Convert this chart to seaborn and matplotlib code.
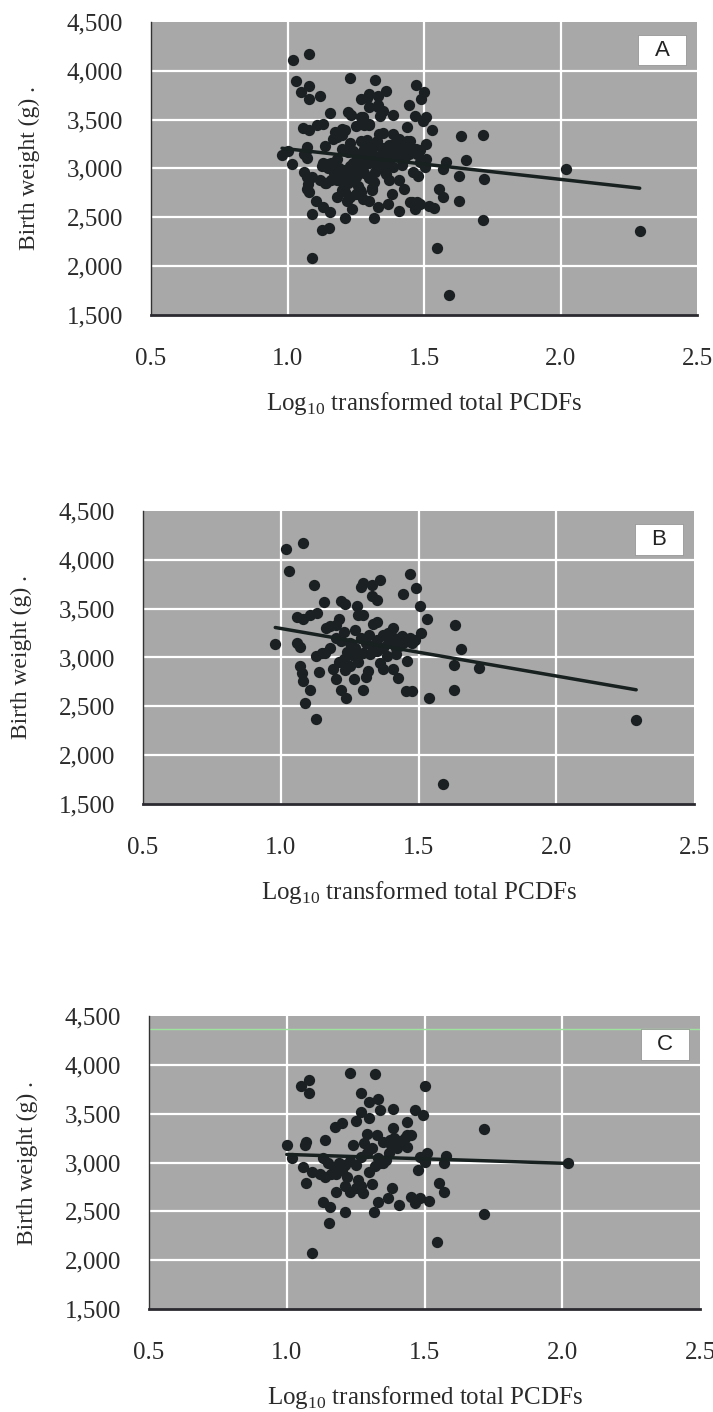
import numpy as np
import pandas as pd
import matplotlib.pyplot as plt
import seaborn as sns

# group B
b_x = [1.02, 1.08, 1.03, 1.12,
       1.29, 1.30, 1.33, 1.36,
       1.47, 1.49, 1.445, 1.506, 1.53,
       1.634, 1.655, 1.627, 1.72, 1.627, 1.537,
       1.455, 1.475, 1.59, 2.29,
       0.98, 1.06, 1.07, 1.058, 1.08, 1.107, 1.13,
       1.157, 1.22, 1.234, 1.276, 1.28, 1.30, 1.33, 1.349,
       1.18, 1.21, 1.20, 1.165, 1.336, 1.349, 1.409, 1.39, 1.37, 1.44, 1.47, 1.487, 1.508, 1.476, 1.445,
       1.20, 1.22, 1.25, 1.27, 1.29, 1.31, 1.33, 1.35, 1.37, 1.39, 1.41, 1.43, 1.24, 1.26, 1.30, 1.34, 1.23, 1.27, 1.32, 1.42,
       1.128, 1.149, 1.18, 1.137, 1.07, 1.076, 1.08, 1.106, 1.088, 1.128,
       1.19, 1.20, 1.218, 1.237, 1.234, 1.264, 1.30, 1.318, 1.36, 1.372, 1.409, 1.427, 1.458, 1.25, 1.23, 1.276, 1.324, 1.349, 1.385, 1.42,
       1.16, 1.21, 1.28, 1.31]
b_y = [4110, 4170, 3890, 3745,
       3720, 3760, 3740, 3790,
       3850, 3710, 3650, 3530, 3390,
       3330, 3090, 2920, 2890, 2670, 2590,
       2655, 2655, 1705, 2360,
       3135, 3150, 3110, 3415, 3390, 3440, 3455,
       3565, 3575, 3550, 3524, 3440, 3440, 3626, 3585,
       3320, 3395, 3337, 3300, 3347, 3360, 3303, 3252, 3235, 3218, 3200, 3184, 3252, 3150, 3150,
       3200, 3170, 3150, 3100, 3200, 3150, 3120, 3180, 3100, 3150, 3200, 3120, 3060, 3030, 3050, 3070, 3260, 3280, 3230, 3100,
       3020, 3048, 3099, 2850, 2912, 2844, 2759, 2667, 2530, 2367,
       2878, 2776, 2663, 2582, 2871, 2776, 2667, 2861, 2946, 2878, 2878, 2793, 2963, 2912, 2980, 3014, 3031, 3065, 3014, 3031,
       3050, 2950, 2950, 2800]

# group C
c_x = [1.23, 1.32, 1.08, 1.05, 1.08, 1.50, 1.27, 1.30, 1.33, 1.27, 1.34, 1.387, 1.466, 1.496,
       1.30, 1.25, 1.20, 1.175, 1.436, 1.387, 1.438, 1.438, 1.0, 1.067, 1.07, 1.018, 1.137, 1.29,
       1.327, 1.375, 1.508, 1.579, 1.569, 1.478, 1.554, 1.569, 1.518, 1.484, 1.466, 1.45, 1.409,
       1.381, 1.369, 1.33, 1.318, 1.212, 1.153, 1.157, 1.131, 1.07, 1.06, 1.09, 1.09, 1.547,
       1.278, 1.23, 1.18, 1.484, 1.502,
       1.717, 1.717, 2.02,
       1.13, 1.15, 1.17, 1.19, 1.21, 1.23, 1.25, 1.27, 1.29, 1.31, 1.33, 1.35, 1.37, 1.16, 1.18,
       1.20, 1.22, 1.26, 1.30, 1.32, 1.34, 1.36, 1.38, 1.40, 1.43, 1.45, 1.14, 1.24, 1.28, 1.35,
       1.39, 1.41, 1.12, 1.27, 1.31, 1.25, 1.21]
c_y = [3920, 3905, 3845, 3780, 3710, 3785, 3709, 3624, 3648, 3522, 3539, 3546, 3539, 3488,
       3454, 3430, 3402, 3368, 3419, 3352, 3283, 3164, 3181, 3181, 3215, 3044, 3232, 3293,
       3283, 3232, 3096, 3068, 2994, 2925, 2790, 2703, 2611, 2636, 2585, 2652, 2567,
       2738, 2635, 2601, 2489, 2489, 2386, 2550, 2601, 2789, 2959, 2908, 2079, 2182,
       2686, 2703, 2703, 3061, 3010,
       3341, 2475, 2995,
       3050, 3000, 2950, 3000, 2980, 3020, 2980, 3060, 3100, 3150, 3050, 3000, 3100, 2880, 2880,
       2920, 2850, 2820, 2900, 2960, 3000, 3030, 3180, 3150, 3250, 3280, 2850, 3180, 3200, 3210,
       3250, 3220, 2880, 2760, 2780, 2740, 2760]

# panel A is everybody
a_x = b_x + c_x
a_y = b_y + c_y

panel_names = ["A", "B", "C"]
x_ticks = [0.5, 1.0, 1.5, 2.0, 2.5]
x_ticklabels = ["0.5", "1.0", "1.5", "2.0", "2.5"]
y_ticks = [1500, 2000, 2500, 3000, 3500, 4000, 4500]
y_ticklabels = ["1,500", "2,000", "2,500", "3,000", "3,500", "4,000", "4,500"]

sns.set_theme(style="white")
plt.rcParams['font.family'] = ['Liberation Serif', 'DejaVu Serif']
plt.rcParams['mathtext.fontset'] = 'custom'
plt.rcParams['mathtext.rm'] = 'Liberation Serif'

fig = plt.figure(figsize=(7.13, 14.12), dpi=100)
boxes = [[0.2118, 0.7769, 0.7658, 0.2077],
         [0.2006, 0.4306, 0.7728, 0.2075],
         [0.2090, 0.0729, 0.7728, 0.2075]]
data = [(a_x, a_y), (b_x, b_y), (c_x, c_y)]

txt = '#2b2b2b'
for box, (xs, ys), name in zip(boxes, data, panel_names):
    ax = fig.add_axes(box)
    ax.set_facecolor('#a8a8a8')
    df = pd.DataFrame({'pcdf': xs, 'bw': ys})
    sns.regplot(data=df, x='pcdf', y='bw', ax=ax, ci=None,
                scatter_kws=dict(s=66, color='#1b2022', alpha=1, linewidths=0, zorder=3),
                line_kws=dict(color='#182020', lw=2.5, zorder=4))
    ax.set_xlim(0.5, 2.5)
    ax.set_ylim(1500, 4500)
    ax.set_xticks(x_ticks)
    ax.set_xticklabels(x_ticklabels)
    ax.set_yticks(y_ticks)
    ax.set_yticklabels(y_ticklabels)
    for xv in x_ticks[1:-1]:
        ax.axvline(xv, color='white', lw=1.6, zorder=1)
    for yv in y_ticks[1:-1]:
        ax.axhline(yv, color='white', lw=1.6, zorder=1)
    if name == "C":
        # faint green scan line across the top of panel C
        ax.axhline(4370, color='#9ee39e', lw=1, zorder=1)
    ax.tick_params(axis='both', direction='in', length=3, width=1, colors='#333333',
                   labelsize=18, labelcolor=txt)
    ax.tick_params(axis='x', pad=24)
    ax.tick_params(axis='y', pad=20)
    for s in ['top', 'right']:
        ax.spines[s].set_visible(False)
    ax.spines['left'].set_color('#333333')
    ax.spines['left'].set_linewidth(1.0)
    ax.spines['bottom'].set_color('#2a2a30')
    ax.spines['bottom'].set_linewidth(2.0)
    ax.set_xlabel(r"Log$_{\mathrm{10}}$ transformed total PCDFs", fontsize=18, color=txt, labelpad=14)
    ax.set_ylabel("Birth weight (g) .", fontsize=17, color=txt, labelpad=19)
    ax.add_patch(plt.Rectangle((0.892, 0.851), 0.088, 0.105, transform=ax.transAxes,
                               facecolor='white', edgecolor='#8a8a8a', lw=0.5, zorder=5))
    ax.text(0.936, 0.902, name, transform=ax.transAxes, ha='center', va='center',
            fontsize=16, family='Liberation Sans', color='#222222', zorder=6)

fig.savefig('out.png', dpi=100)
